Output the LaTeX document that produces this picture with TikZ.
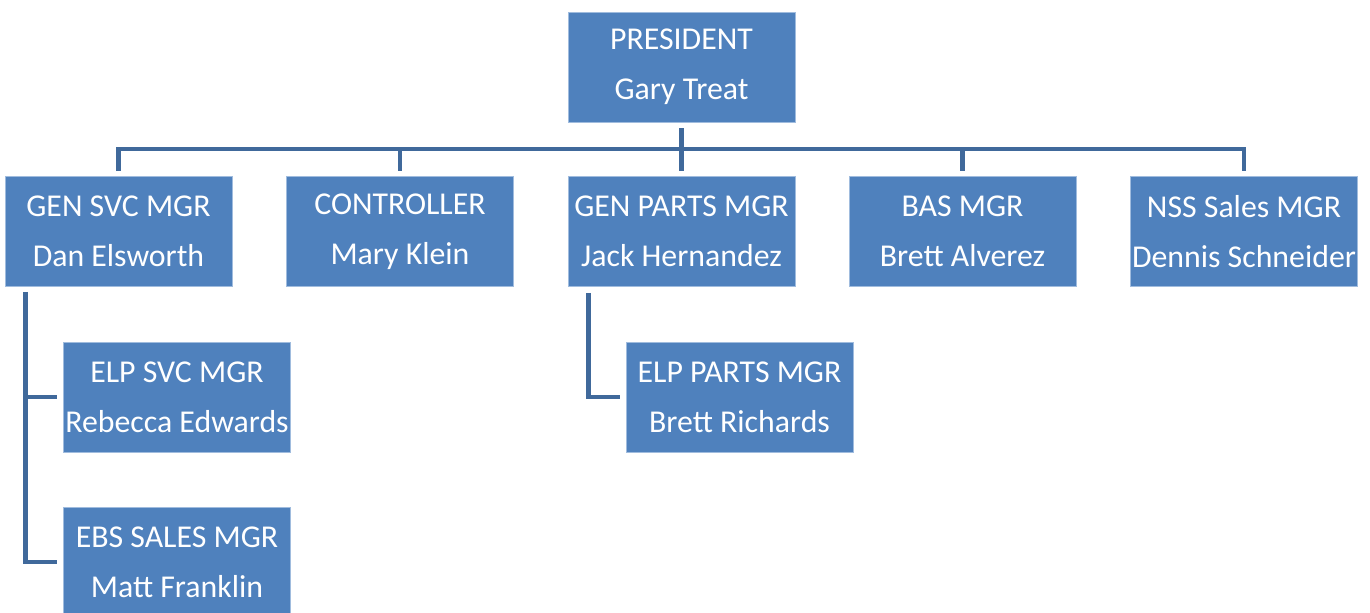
\documentclass[tikz,border=0pt]{standalone}
\usepackage{fontspec}
\setmainfont{Carlito}
\usetikzlibrary{positioning}

\definecolor{boxblue}{RGB}{79,129,189}
\definecolor{boxedge}{RGB}{160,188,222}
\definecolor{linkblue}{RGB}{64,105,155}

\begin{document}
\begin{tikzpicture}[
    box/.style={draw=boxedge, line width=0.5pt, fill=boxblue, text=white, minimum width=4.54cm, minimum height=2.2cm, inner sep=0pt, align=center, font=\fontsize{18.1}{28.4}\selectfont},
    link/.style={draw=linkblue, line width=2.8pt},
  ]
  \useasboundingbox (0,0) rectangle (27.4,-12.24);

  \node[box] (pres) at (13.63,-1.34) {PRESIDENT\\Gary Treat};

  \node[box] (gensvc) at (2.37,-4.63) {GEN SVC MGR\\Dan Elsworth};
  \node[box] (ctrl) at (8.0,-4.63) {CONTROLLER\\Mary Klein};
  \node[box] (genparts) at (13.63,-4.63) {GEN PARTS MGR\\Jack Hernandez};
  \node[box] (bas) at (19.25,-4.63) {BAS MGR\\Brett Alverez};
  \node[box] (nss) at (24.88,-4.63) {NSS Sales MGR\\Dennis Schneider};

  \node[box] (elpsvc) at (3.54,-7.94) {ELP SVC MGR\\Rebecca Edwards};
  \node[box] (ebs) at (3.54,-11.24) {EBS SALES MGR\\Matt Franklin};
  \node[box] (elpparts) at (14.79,-7.94) {ELP PARTS MGR\\Brett Richards};

  \coordinate (bus) at (13.63,-2.98);
  \coordinate (svcspine) at ([xshift=0.42cm]gensvc.south west);
  \coordinate (partsspine) at ([xshift=0.42cm]genparts.south west);

  % president down to the bus
  \draw[link, shorten <=0.12cm] (pres.south) -- (bus);
  \draw[link, shorten <=0.1cm, shorten >=0.1cm] (gensvc.north) -- (gensvc.north |- bus) -- (nss.north |- bus) -- (nss.north);
  \foreach \n in {ctrl,genparts,bas}
    \draw[link, shorten >=0.1cm] (\n.north |- bus) -- (\n.north);

  % second level
  \draw[link, shorten <=0.1cm, shorten >=0.12cm] (svcspine) |- (ebs.west);
  \draw[link, shorten >=0.12cm] (svcspine |- elpsvc.west) -- (elpsvc.west);
  \draw[link, shorten <=0.12cm, shorten >=0.12cm] (partsspine) |- (elpparts.west);
\end{tikzpicture}
\end{document}
